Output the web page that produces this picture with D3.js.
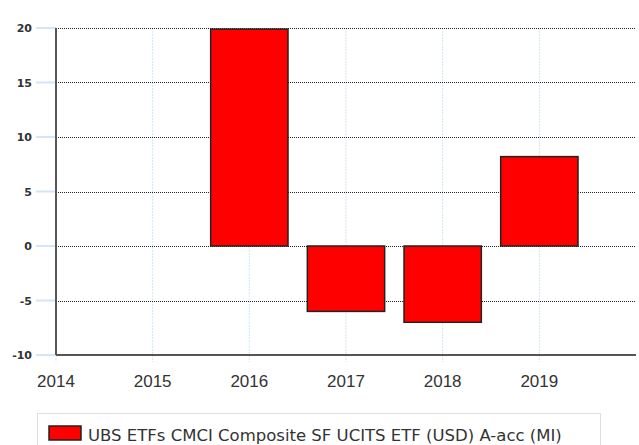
<!DOCTYPE html>
<html>
<head>
<meta charset="utf-8">
<script src="https://cdn.jsdelivr.net/npm/d3@7"></script>
<style>
  body { margin: 0; background: #fff; }
  svg { display: block; font-family: "DejaVu Sans", Verdana, sans-serif; }
</style>
</head>
<body>
<div class="chart"></div>
<script>
// Data
const years = [2016, 2017, 2018, 2019]
const values = [19.9, -6.0, -7.0, 8.2]
const yTicks = [-10, -5, 0, 5, 10, 15, 20]
const xTicks = [2014, 2015, 2016, 2017, 2018, 2019]
const seriesName = "UBS ETFs CMCI Composite SF UCITS ETF (USD) A-acc (MI)"

const width = 639
const height = 445
const margin = {top: 28, right: 3, bottom: 90, left: 56}

const svg = d3.select(".chart").append("svg")
    .attr("width", width)
    .attr("height", height)

// Scales
const x = d3.scaleLinear()
    .domain([2014, 2020])
    .range([margin.left, width - margin.right])
const y = d3.scaleLinear()
    .domain([-10, 20])
    .range([height - margin.bottom, margin.top])

const barW = (x(2015) - x(2014)) * 0.8

// Vertical grid (light blue dotted)
svg.append("g")
    .selectAll("line")
    .data(xTicks)
    .join("line")
    .attr("x1", d => x(d)).attr("x2", d => x(d))
    .attr("y1", y(20)).attr("y2", y(-10) + 7)
    .attr("stroke", "#d3e5f7")
    .attr("stroke-width", 1)
    .attr("stroke-dasharray", "2,1")

// Horizontal grid (black dotted)
svg.append("g")
    .selectAll("line")
    .data(yTicks.filter(d => d > -10))
    .join("line")
    .attr("x1", x(2014)).attr("x2", x(2020))
    .attr("y1", d => Math.round(y(d)) + 0.5).attr("y2", d => Math.round(y(d)) + 0.5)
    .attr("stroke", "#222")
    .attr("stroke-width", 1)
    .attr("stroke-dasharray", "1,1")

// y tick marks (light blue)
svg.append("g")
    .selectAll("line")
    .data(yTicks)
    .join("line")
    .attr("x1", 36).attr("x2", x(2014))
    .attr("y1", d => y(d)).attr("y2", d => y(d))
    .attr("stroke", "#d3e5f7")
    .attr("stroke-width", 2)

// y tick labels
svg.append("g")
    .selectAll("text")
    .data(yTicks)
    .join("text")
    .attr("x", 32)
    .attr("y", d => y(d) + 4)
    .attr("text-anchor", "end")
    .attr("font-size", 11)
    .attr("font-weight", "bold")
    .attr("fill", "#333")
    .text(d => d)

// x tick labels
svg.append("g")
    .selectAll("text")
    .data(xTicks)
    .join("text")
    .attr("x", d => x(d))
    .attr("y", y(-10) + 32)
    .attr("text-anchor", "middle")
    .attr("font-family", "'Liberation Sans', Arial, sans-serif")
    .attr("font-size", 17)
    .attr("fill", "#333")
    .text(d => d)

// Bars
svg.append("g")
    .selectAll("rect")
    .data(years.map((d, i) => ({year: d, value: values[i]})))
    .join("rect")
    .attr("x", d => x(d.year) - barW / 2)
    .attr("width", barW)
    .attr("y", d => y(Math.max(0, d.value)))
    .attr("height", d => Math.abs(y(d.value) - y(0)))
    .attr("fill", "#ff0000")
    .attr("stroke", "#222")
    .attr("stroke-width", 1.5)

// Axis lines
svg.append("line")
    .attr("x1", x(2014)).attr("x2", x(2014))
    .attr("y1", y(20)).attr("y2", y(-10))
    .attr("stroke", "#555").attr("stroke-width", 2)
svg.append("line")
    .attr("x1", x(2014)).attr("x2", x(2020))
    .attr("y1", y(-10)).attr("y2", y(-10))
    .attr("stroke", "#555").attr("stroke-width", 2)

// Legend
const legend = svg.append("g")
legend.append("rect")
    .attr("x", 37.5).attr("y", 413.5)
    .attr("width", 563).attr("height", 40)
    .attr("fill", "#fff")
    .attr("stroke", "#ddd")
legend.append("rect")
    .attr("x", 49).attr("y", 426)
    .attr("width", 32).attr("height", 14)
    .attr("fill", "#ff0000")
    .attr("stroke", "#222")
    .attr("stroke-width", 1.5)
legend.append("text")
    .attr("x", 88).attr("y", 441)
    .attr("font-size", 16.5)
    .attr("fill", "#333")
    .text(seriesName)
</script>
</body>
</html>
